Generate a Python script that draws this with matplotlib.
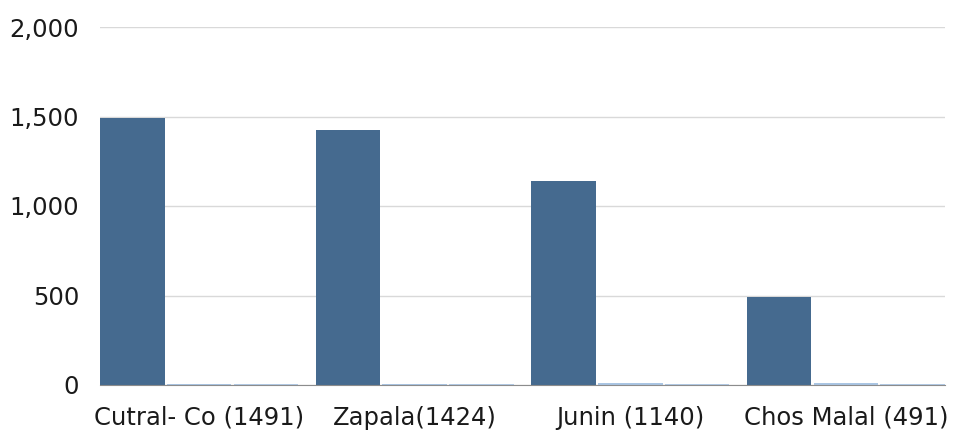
import matplotlib.pyplot as plt
import matplotlib.ticker as mticker
import numpy as np

categories = ['Cutral- Co (1491)', 'Zapala(1424)', 'Junin (1140)', 'Chos Malal (491)']
serie_1 = [1491, 1424, 1140, 491]
serie_2 = [4, 8, 9, 12]
serie_3 = [3, 3, 4, 6]

plt.rcParams['font.family'] = ['DejaVu Sans']

fig = plt.figure(figsize=(9.55, 4.34), dpi=100)
ax = fig.add_axes([100 / 955, 49 / 434, 845 / 955, 358 / 434])

x = np.arange(len(categories))
w = 0.3
step = 0.31
ax.bar(x - step, serie_1, width=w, color='#456a8f', zorder=3)
ax.bar(x, serie_2, width=w, color='#a9c5e3', zorder=3)
ax.bar(x + step, serie_3, width=w, color='#b3cbe6', zorder=3)

ax.set_xlim(-step - w / 2, len(categories) - 1 + step + w / 2)
ax.set_ylim(0, 2000)
ax.set_yticks([0, 500, 1000, 1500, 2000])
ax.yaxis.set_major_formatter(mticker.FuncFormatter(lambda v, p: f'{int(v):,}'))
ax.set_xticks(x)
ax.set_xticklabels(categories)
ax.tick_params(axis='both', length=0, labelsize=17.5, colors='#1a1a1a')
ax.tick_params(axis='y', pad=15)
ax.tick_params(axis='x', pad=15)

ax.grid(axis='y', color='#d9d9d9', linewidth=1, zorder=0)
for s in ['top', 'right', 'left']:
    ax.spines[s].set_visible(False)
ax.spines['bottom'].set_color('#8c8c8c')
ax.spines['bottom'].set_zorder(4)

fig.savefig('out.png', dpi=100)
